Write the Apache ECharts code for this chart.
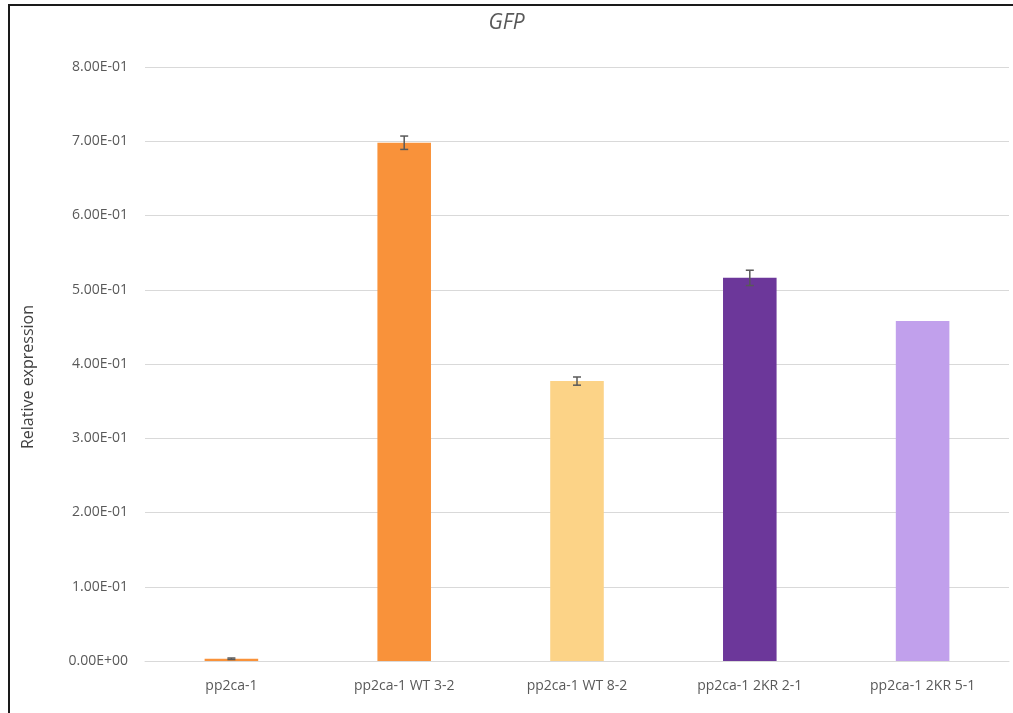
<!DOCTYPE html>
<html><head><meta charset="utf-8">
<script src="https://cdn.jsdelivr.net/npm/echarts@6/dist/echarts.min.js"></script>
<style>html,body{margin:0;padding:0;background:#fff;}#c{width:1013px;height:713px;}</style>
</head><body><div id="c"></div>
<script>
const categories = ['pp2ca-1', 'pp2ca-1 WT 3-2', 'pp2ca-1 WT 8-2', 'pp2ca-1 2KR 2-1', 'pp2ca-1 2KR 5-1'];
const values = [0.003, 0.698, 0.377, 0.516, 0.458];
const errors = [0.001, 0.009, 0.0055, 0.0103, 0];
const barColors = ['#F9923A', '#F9923A', '#FCD387', '#6C379A', '#C1A0EC'];
const yTicks = [0, 0.1, 0.2, 0.3, 0.4, 0.5, 0.6, 0.7, 0.8];
const yAxisTitle = 'Relative expression';

const chart = echarts.init(document.getElementById('c'));
const font = 'Open Sans, Liberation Sans, sans-serif';
chart.setOption({
  animation: false,
  backgroundColor: '#fff',
  title: {text: 'GFP', left: 'center', top: 8,
    textStyle: {fontStyle: 'italic', fontWeight: 'normal', fontSize: 21, color: '#595959', fontFamily: font}},
  grid: {left: 145, right: 4, top: 67, bottom: 52},
  graphic: [
    {type: 'line', shape: {x1: 9, y1: 5, x2: 9, y2: 713}, style: {stroke: '#1a1a1a', lineWidth: 2}},
    {type: 'line', shape: {x1: 8, y1: 5, x2: 1013, y2: 5}, style: {stroke: '#1a1a1a', lineWidth: 2}},
    {type: 'text', x: 28, y: 377, rotation: Math.PI / 2,
      style: {text: yAxisTitle, fill: '#404040', fontSize: 16, fontFamily: font,
        textAlign: 'center', textVerticalAlign: 'middle'}}
  ],
  xAxis: {type: 'category', data: categories,
    axisLine: {lineStyle: {color: '#d9d9d9', width: 1}}, axisTick: {show: false},
    axisLabel: {color: '#595959', fontSize: 14, margin: 18, fontFamily: font}},
  yAxis: {type: 'value', min: 0, max: 0.8, interval: 0.1,
    axisLine: {show: false}, axisTick: {show: false},
    splitLine: {lineStyle: {color: '#d9d9d9', width: 1}},
    axisLabel: {color: '#595959', fontSize: 14, margin: 17, fontFamily: font,
      formatter: v => { const t = yTicks.find(x => Math.abs(x - v) < 1e-9); const val = t === undefined ? v : t;
        if (val === 0) return '0.00E+00'; return (val * 10).toFixed(2) + 'E-01'; }}},
  series: [
    {type: 'bar', barWidth: '31%',
      data: values.map((v, i) => ({value: v, itemStyle: {color: barColors[i]}}))},
    {type: 'custom', z: 10,
      data: values.map((v, i) => [i, v, errors[i]]),
      renderItem: (params, api) => {
        const e = api.value(2);
        if (!e) return null;
        const x = api.value(0), v = api.value(1);
        const hi = api.coord([x, v + e]), lo = api.coord([x, v - e]);
        const w = 4;
        const st = {stroke: '#595959', lineWidth: 1.5};
        return {type: 'group', children: [
          {type: 'line', shape: {x1: hi[0], y1: hi[1], x2: lo[0], y2: lo[1]}, style: st},
          {type: 'line', shape: {x1: hi[0] - w, y1: hi[1], x2: hi[0] + w, y2: hi[1]}, style: st},
          {type: 'line', shape: {x1: lo[0] - w, y1: lo[1], x2: lo[0] + w, y2: lo[1]}, style: st}
        ]};
      }}
  ]
});
</script></body></html>
